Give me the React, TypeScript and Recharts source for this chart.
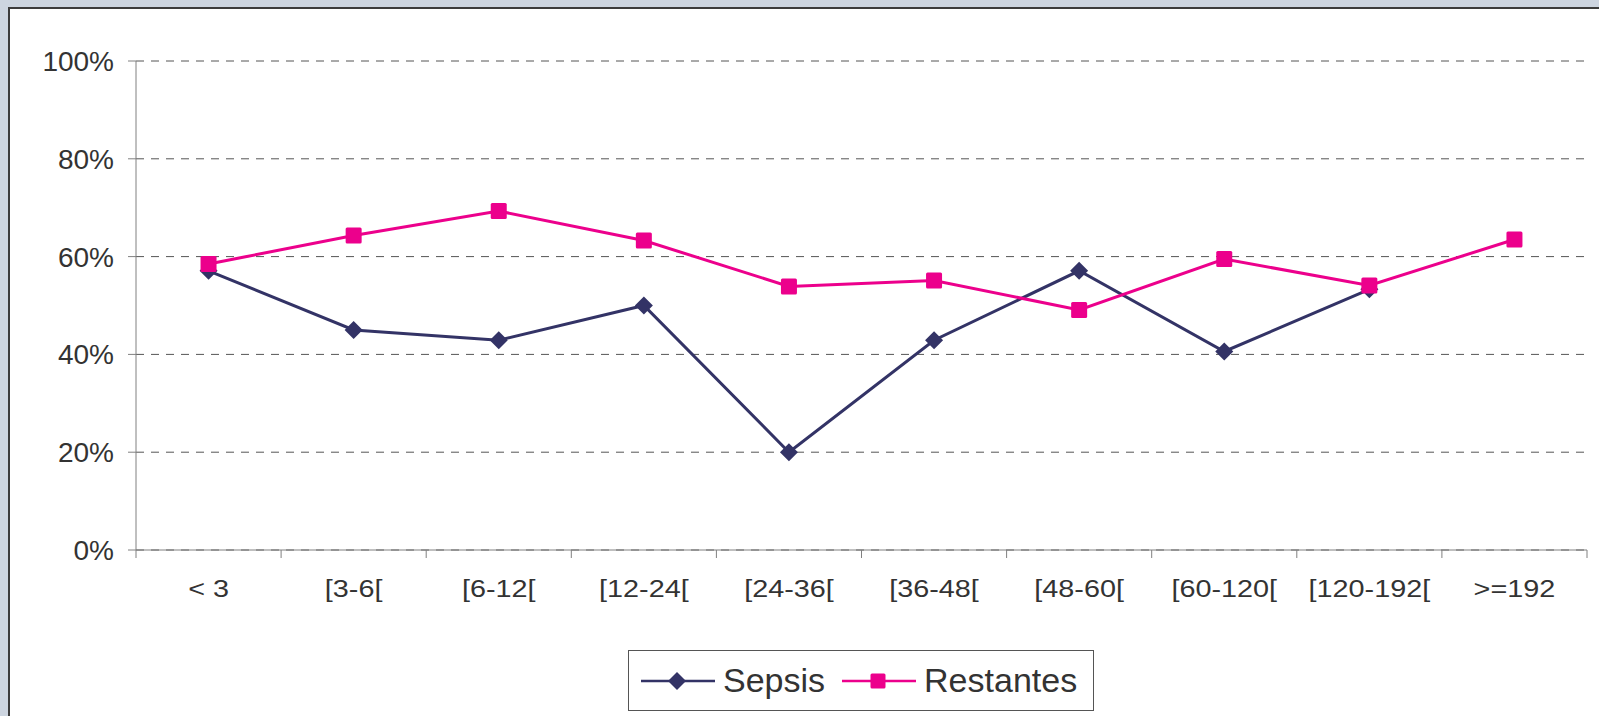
import React from 'react'
import { LineChart, Line, XAxis, YAxis, CartesianGrid, Legend } from 'recharts'

const categories = ['< 3', '[3-6[', '[6-12[', '[12-24[', '[24-36[', '[36-48[', '[48-60[', '[60-120[', '[120-192[', '>=192']
const sepsis = [57.1, 45.0, 42.9, 50.0, 20.0, 42.9, 57.1, 40.6, 53.3, null]
const restantes = [58.5, 64.3, 69.3, 63.3, 53.9, 55.1, 49.1, 59.5, 54.1, 63.5]
const yTicks = [0, 20, 40, 60, 80, 100]

const SEPSIS_COLOR = '#333366'
const RESTANTES_COLOR = '#ec008c'
const TEXT = '#333333'
const FONT = '"Liberation Sans", Arial, sans-serif'

const W = 1599
const H = 716
const PLOT_LEFT = 136
const MARGIN_RIGHT = 12
const BAND = (W - MARGIN_RIGHT - PLOT_LEFT) / categories.length

const data = categories.map((name, i) => ({
    name,
    sepsis: sepsis[i],
    restantes: restantes[i]
}))

// diamond marker for Sepsis
const Diamond = (props: any) => {
    const { cx, cy, key } = props
    if (cx == null || cy == null) return <g key={key} />
    const r = 9
    return (
        <path
            key={key}
            d={`M${cx},${cy - r} L${cx + r},${cy} L${cx},${cy + r} L${cx - r},${cy} Z`}
            fill={SEPSIS_COLOR}
        />
    )
}

// square marker for Restantes
const Square = (props: any) => {
    const { cx, cy, key } = props
    if (cx == null || cy == null) return <g key={key} />
    const s = 16
    return <rect key={key} x={cx - s / 2} y={cy - s / 2} width={s} height={s} rx={1.5} fill={RESTANTES_COLOR} />
}

// category labels (a bit stretched, like the original) with tick marks at the band edges
const XTick = (props: any) => {
    const { x, y, payload, index } = props
    const half = BAND / 2
    return (
        <g>
            <line x1={x - half} x2={x - half} y1={y - 30} y2={y - 22} stroke="#808080" />
            {index === categories.length - 1 && (
                <line x1={x + half} x2={x + half} y1={y - 30} y2={y - 22} stroke="#808080" />
            )}
            <text
                transform={`translate(${x},${y}) scale(1.2,1)`}
                dy="0.71em"
                textAnchor="middle"
                fill={TEXT}
                fontSize={24}
                fontFamily={FONT}
            >
                {payload.value}
            </text>
        </g>
    )
}

const LegendBox = () => (
    <div
        style={{
            width: 466,
            height: 61,
            boxSizing: 'border-box',
            border: '1px solid #555',
            background: '#fff',
            display: 'flex',
            alignItems: 'center',
            paddingLeft: 12,
            fontFamily: FONT,
            fontSize: 34,
            color: TEXT
        }}
    >
        <svg width={74} height={20} style={{ marginRight: 8 }}>
            <line x1={0} x2={74} y1={10} y2={10} stroke={SEPSIS_COLOR} strokeWidth={2.5} />
            <path d="M36,1 L45,10 L36,19 L27,10 Z" fill={SEPSIS_COLOR} />
        </svg>
        <span style={{ marginRight: 17 }}>Sepsis</span>
        <svg width={74} height={20} style={{ marginRight: 8 }}>
            <line x1={0} x2={74} y1={10} y2={10} stroke={RESTANTES_COLOR} strokeWidth={2.5} />
            <rect x={28.5} y={2.5} width={15} height={15} rx={1.5} fill={RESTANTES_COLOR} />
        </svg>
        <span>Restantes</span>
    </div>
)

export default function App() {
    return (
        <div style={{ position: 'fixed', left: 0, top: 0, width: W, height: H, background: '#cdd5e0', overflow: 'hidden' }}>
            <div
                style={{
                    position: 'absolute',
                    left: 8,
                    top: 7,
                    right: 0,
                    bottom: 0,
                    background: '#fff',
                    borderTop: '2px solid #3c3c3c',
                    borderLeft: '2px solid #3c3c3c'
                }}
            />
            <div style={{ position: 'absolute', left: 0, top: 0 }}>
                <LineChart
                    width={W}
                    height={H}
                    data={data}
                    margin={{ top: 61, right: MARGIN_RIGHT, bottom: 106, left: PLOT_LEFT - 80 }}
                >
                    <CartesianGrid vertical={false} stroke="#555" strokeDasharray="8 7" />
                    <XAxis
                        dataKey="name"
                        scale="band"
                        height={60}
                        stroke="#808080"
                        tickLine={false}
                        tickSize={8}
                        tickMargin={22}
                        interval={0}
                        tick={<XTick />}
                    />
                    <YAxis
                        width={80}
                        domain={[0, 100]}
                        ticks={yTicks}
                        tickFormatter={(v) => `${v}%`}
                        stroke="#808080"
                        tickSize={8}
                        tickMargin={14}
                        tick={{ fill: TEXT, fontSize: 28, fontFamily: FONT }}
                    />
                    <Legend
                        layout="horizontal"
                        verticalAlign="middle"
                        align="center"
                        content={() => <LegendBox />}
                        wrapperStyle={{ left: 628, top: 650, width: 466, height: 61 }}
                    />
                    <Line
                        dataKey="sepsis"
                        name="Sepsis"
                        stroke={SEPSIS_COLOR}
                        strokeWidth={3}
                        dot={<Diamond />}
                        activeDot={false}
                        isAnimationActive={false}
                    />
                    <Line
                        dataKey="restantes"
                        name="Restantes"
                        stroke={RESTANTES_COLOR}
                        strokeWidth={3}
                        dot={<Square />}
                        activeDot={false}
                        isAnimationActive={false}
                    />
                </LineChart>
            </div>
        </div>
    )
}
